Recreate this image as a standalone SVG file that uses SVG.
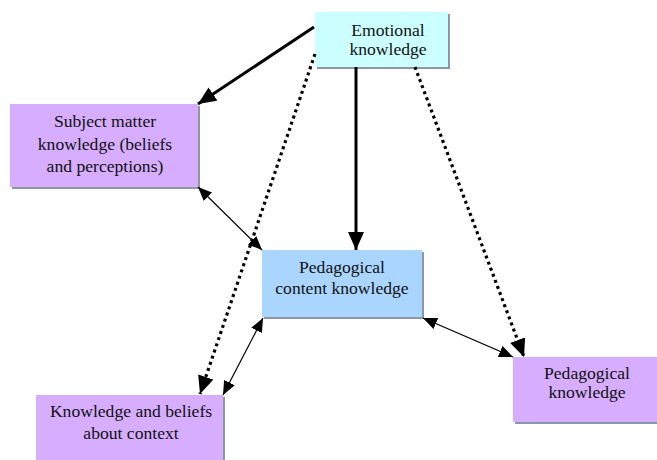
<svg xmlns="http://www.w3.org/2000/svg" width="657" height="460" viewBox="0 0 657 460">
<defs>
<style>
.shadow{fill:#8c98a8}
.cyan{fill:#ccffff}
.blue{fill:#a9d5ff}
.purple{fill:#d6adff}
.t{font-size:17.6px;fill:#111;text-anchor:middle}
.thick{stroke:#000;stroke-width:3;fill:none}
.dot{stroke:#000;stroke-width:3.2;fill:none;stroke-dasharray:3 3.5}
.thin{stroke:#000;stroke-width:1.2;fill:none}
</style>
<marker id="big" markerUnits="userSpaceOnUse" viewBox="0 0 18 16" markerWidth="18" markerHeight="16" refX="18" refY="8" orient="auto"><path d="M0,0 L18,8 L0,16 Z" fill="#000"/></marker>
<marker id="small" markerUnits="userSpaceOnUse" viewBox="0 0 14 12" markerWidth="14" markerHeight="12" refX="14" refY="6" orient="auto-start-reverse"><path d="M0,0 L14,6 L0,12 Z" fill="#000"/></marker>
</defs>
<rect width="657" height="460" fill="#fff"/>
<g font-family="'Liberation Serif', 'Times New Roman', 'DejaVu Serif', serif">
<g id="emotional">
<rect class="shadow" x="317" y="14" width="133" height="55"/>
<rect class="cyan" x="315" y="12" width="133" height="55"/>
<text class="t" x="388" y="36">Emotional</text>
<text class="t" x="388" y="55">knowledge</text>
</g>
<g id="subject">
<rect class="shadow" x="12" y="106" width="188" height="83"/>
<rect class="purple" x="10" y="104" width="188" height="83"/>
<text class="t" x="105" y="127">Subject matter</text>
<text class="t" x="105" y="150">knowledge (beliefs</text>
<text class="t" x="105" y="172">and perceptions)</text>
</g>
<g id="pck">
<rect class="shadow" x="264" y="252" width="160" height="67"/>
<rect class="blue" x="262" y="250" width="160" height="67"/>
<text class="t" x="342" y="273">Pedagogical</text>
<text class="t" x="342" y="294">content knowledge</text>
</g>
<g id="pk">
<rect class="shadow" x="515" y="359" width="142" height="65"/>
<rect class="purple" x="513" y="357" width="144" height="65"/>
<text class="t" x="587" y="379">Pedagogical</text>
<text class="t" x="587" y="398">knowledge</text>
</g>
<g id="context">
<rect class="shadow" x="38" y="397" width="187" height="63"/>
<rect class="purple" x="36" y="395" width="187" height="65"/>
<text class="t" x="131" y="417">Knowledge and beliefs</text>
<text class="t" x="131" y="439">about context</text>
</g>
</g>
<g id="connectors">
<line class="thick" x1="314" y1="27" x2="198" y2="104" marker-end="url(#big)"/>
<line class="thick" x1="356" y1="67" x2="356" y2="250" marker-end="url(#big)"/>
<line class="dot" x1="315" y1="54" x2="200" y2="394" marker-end="url(#big)"/>
<line class="dot" x1="415" y1="67" x2="524" y2="357" marker-end="url(#big)"/>
<line class="thin" x1="198" y1="187" x2="262" y2="250" marker-start="url(#small)" marker-end="url(#small)"/>
<line class="thin" x1="263" y1="318" x2="223" y2="395" marker-start="url(#small)" marker-end="url(#small)"/>
<line class="thin" x1="423" y1="318" x2="513" y2="357" marker-start="url(#small)" marker-end="url(#small)"/>
</g>
</svg>
